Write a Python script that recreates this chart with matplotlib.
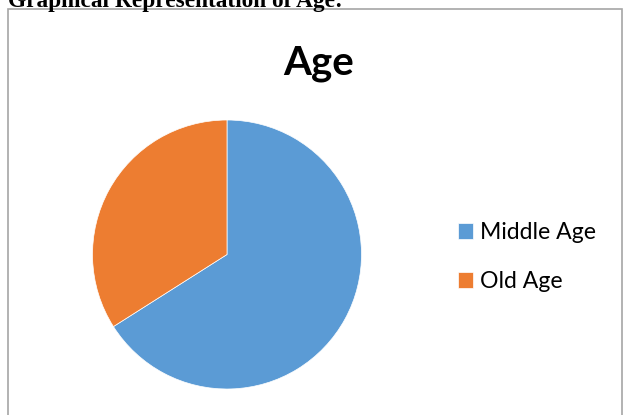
import matplotlib
matplotlib.use("Agg")
import matplotlib.pyplot as plt
from matplotlib.patches import Rectangle

# Données
labels = ["Middle Age", "Old Age"]
values = [66, 34]
colors = ["#5B9BD5", "#ED7D31"]

W, H = 623, 415


def fx(px):
    return px / W


def fy(py):
    return 1 - py / H


fig = plt.figure(figsize=(W / 100, H / 100), dpi=100)

# Cadre du graphique
fig.patches.append(Rectangle((fx(8), fy(416)), fx(622) - fx(8), fy(9) - fy(416),
                             transform=fig.transFigure, fill=False,
                             edgecolor="#a6a6a6", linewidth=1.2))

# Titre du document, coupé en haut
fig.text(fx(8), fy(7), "Graphical Representation of Age:", family="Liberation Serif",
         weight="bold", fontsize=16.8, ha="left", va="baseline")

# Titre du graphique
fig.text(fx(319), fy(75), "Age", family="Lato", weight="bold", fontsize=29,
         ha="center", va="baseline")

# Camembert
cx, cy, r = 227, 254.5, 134.5
ax = fig.add_axes([fx(cx - r), fy(cy + r), 2 * r / W, 2 * r / H])
wedges, _ = ax.pie(values, colors=colors, startangle=90, counterclock=False,
                   wedgeprops=dict(edgecolor="white", linewidth=0.5))
ax.set_xlim(-1, 1)
ax.set_ylim(-1, 1)
ax.set_aspect("equal")

fig.legend(wedges, labels, loc="center left", bbox_to_anchor=(fx(437), fy(257)),
           frameon=False, prop=dict(family="Lato", size=16.6),
           handlelength=0.66, handleheight=0.66, handletextpad=0.3,
           labelspacing=1.22)

fig.savefig("out.png", dpi=100)
